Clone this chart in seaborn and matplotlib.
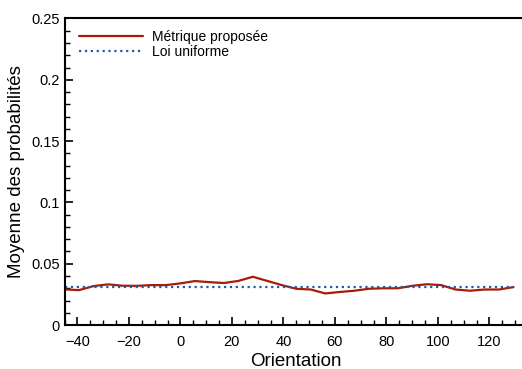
import numpy as np
import pandas as pd
import matplotlib
matplotlib.use('Agg')
import matplotlib.pyplot as plt
import seaborn as sns
from matplotlib.ticker import MultipleLocator

# orientations (32 classes de 5.625 degres)
orientation = [-45.0, -39.375, -33.75, -28.125, -22.5, -16.875, -11.25, -5.625,
               0.0, 5.625, 11.25, 16.875, 22.5, 28.125, 33.75, 39.375,
               45.0, 50.625, 56.25, 61.875, 67.5, 73.125, 78.75, 84.375,
               90.0, 95.625, 101.25, 106.875, 112.5, 118.125, 123.75, 129.375]

metrique = [0.0291, 0.0285, 0.0318, 0.0332, 0.0321, 0.0320, 0.0326, 0.0326,
            0.0340, 0.0359, 0.0350, 0.0343, 0.0360, 0.0394, 0.0360, 0.0326,
            0.0296, 0.0290, 0.0258, 0.0270, 0.0280, 0.0296, 0.0300, 0.0300,
            0.0320, 0.0333, 0.0326, 0.0290, 0.0280, 0.0290, 0.0290, 0.0310]

uniforme = [1 / 32] * len(orientation)

df = pd.DataFrame({'Orientation': orientation,
                   'Métrique proposée': metrique,
                   'Loi uniforme': uniforme})

sns.set_style('ticks')
plt.rcParams['font.family'] = ['Liberation Sans', 'DejaVu Sans']
plt.rcParams['text.color'] = 'black'
plt.rcParams['axes.labelcolor'] = 'black'
plt.rcParams['xtick.color'] = 'black'
plt.rcParams['ytick.color'] = 'black'
plt.rcParams['axes.edgecolor'] = 'black'

fig = plt.figure(figsize=(5.22, 3.69), dpi=100)
# l'axe depasse un peu a droite de l'image, comme dans l'original
ax = fig.add_axes([0.1236, 0.119, 0.888, 0.831])

sns.lineplot(data=df, x='Orientation', y='Métrique proposée', ax=ax,
             color='#a81c07', linewidth=1.6, label='Métrique proposée')
sns.lineplot(data=df, x='Orientation', y='Loi uniforme', ax=ax,
             color='#1a5fa5', linewidth=1.6, linestyle=':', label='Loi uniforme')

ax.set_xlim(-45, 135)
ax.set_ylim(0, 0.25)
ax.xaxis.set_major_locator(MultipleLocator(20))
ax.xaxis.set_minor_locator(MultipleLocator(5))
ax.yaxis.set_minor_locator(MultipleLocator(0.01))
ax.set_yticks([0, 0.05, 0.1, 0.15, 0.2, 0.25])
ax.set_yticklabels(['0', '0.05', '0.1', '0.15', '0.2', '0.25'])

ax.tick_params(which='major', direction='in', length=6, width=1.2, labelsize=10.5)
ax.tick_params(axis='x', which='major', pad=7)
ax.tick_params(which='minor', direction='in', length=3.5, width=1)
ax.tick_params(top=False, right=False, which='both')

for s in ax.spines.values():
    s.set_linewidth(1.5)

ax.set_xlabel('Orientation', fontsize=13.5, labelpad=3)
ax.set_ylabel('Moyenne des probabilités', fontsize=13.5, labelpad=4)

ax.legend(loc='upper left', frameon=False, fontsize=10, handlelength=4.6,
          handletextpad=0.6, labelspacing=0.1, borderaxespad=0.4,
          bbox_to_anchor=(0.008, 1.0))

fig.savefig('out.png', dpi=100)
